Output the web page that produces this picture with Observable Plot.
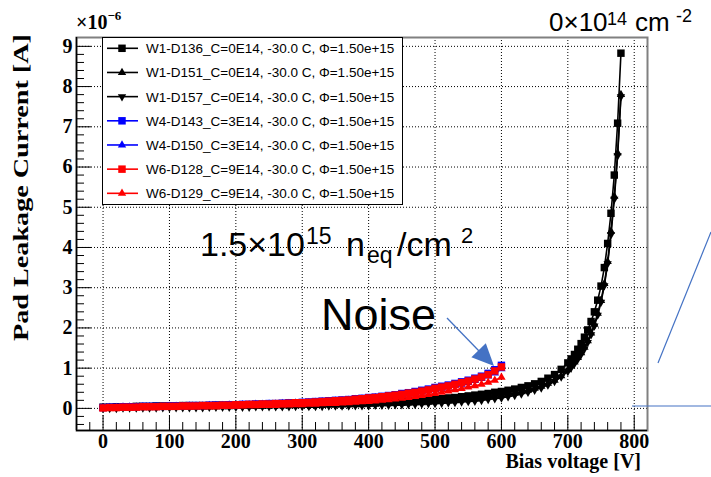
<!DOCTYPE html>
<html><head><meta charset="utf-8">
<script src="https://cdn.jsdelivr.net/npm/d3@7"></script>
<script src="https://cdn.jsdelivr.net/npm/@observablehq/plot@0.6"></script>
<style>
html,body{margin:0;padding:0;background:#fff;}
#chart{position:relative;width:711px;height:477px;}
svg{display:block;}
</style></head><body><div id="chart"></div>
<script>
// ---------- data ----------
const xMajorTicks = [0,100,200,300,400,500,600,700,800];
const yMajorTicks = [0,1,2,3,4,5,6,7,8,9];

const voltagesRB = [0,10,20,30,40,50,60,70,80,90,100,110,120,130,140,150,160,170,180,190,200,210,220,230,240,250,260,270,280,290,300,310,320,330,340,350,360,370,380,390,400,410,420,430,440,450,460,470,480,490,500,510,520,530,540,550,560,570,580,590,600];
const voltagesBlack = [0,10,20,30,40,50,60,70,80,90,100,110,120,130,140,150,160,170,180,190,200,210,220,230,240,250,260,270,280,290,300,310,320,330,340,350,360,370,380,390,400,410,420,430,440,450,460,470,480,490,500,510,520,530,540,550,560,570,580,590,600,610,620,630,640,650,660,670,680,690,700,705,710,715,720,725,730,735,740,745,750,755,760,765,770,775,780];

// current in units of 1e-6 A
const W1_D136 = [
0.03,0.03,0.04,0.04,0.04,0.05,0.05,0.05,0.06,0.06,
0.06,0.06,0.07,0.07,0.07,0.07,0.07,0.08,0.08,0.08,
0.08,0.08,0.09,0.09,0.09,0.09,0.10,0.10,0.10,0.10,
0.11,0.11,0.11,0.12,0.12,0.12,0.13,0.13,0.14,0.14,
0.15,0.15,0.16,0.17,0.17,0.18,0.19,0.20,0.21,0.22,
0.23,0.24,0.26,0.27,0.29,0.31,0.33,0.35,0.37,0.40,
0.42,0.45,0.48,0.52,0.56,0.61,0.67,0.75,0.84,0.97,
1.13,
1.23,1.34,1.47,1.61,1.77,1.95,2.16,2.40,2.69,3.04,3.50,4.10,4.85,5.80,7.09,8.83];
const W1_D151 = [
0.01,0.01,0.01,0.02,0.02,0.02,0.02,0.02,0.03,0.03,
0.03,0.03,0.03,0.03,0.04,0.04,0.04,0.04,0.04,0.04,
0.05,0.05,0.05,0.05,0.05,0.06,0.06,0.06,0.06,0.06,
0.07,0.07,0.07,0.07,0.08,0.08,0.08,0.09,0.09,0.09,
0.10,0.10,0.11,0.11,0.12,0.12,0.13,0.14,0.14,0.15,
0.16,0.17,0.18,0.19,0.21,0.22,0.24,0.26,0.28,0.30,
0.32,0.35,0.38,0.41,0.45,0.50,0.55,0.62,0.70,0.81,
0.96,
1.05,1.15,1.26,1.38,1.52,1.68,1.87,2.09,2.36,2.68,3.10,3.65,4.40,5.27,6.35,7.80];
const W1_D157 = [
0.00,0.00,0.00,0.01,0.01,0.01,0.01,0.01,0.01,0.02,
0.02,0.02,0.02,0.02,0.02,0.02,0.03,0.03,0.03,0.03,
0.03,0.03,0.03,0.04,0.04,0.04,0.04,0.04,0.04,0.05,
0.05,0.05,0.05,0.05,0.06,0.06,0.06,0.06,0.07,0.07,
0.07,0.08,0.08,0.08,0.09,0.09,0.10,0.10,0.11,0.12,
0.12,0.13,0.14,0.15,0.16,0.17,0.18,0.20,0.22,0.24,
0.26,0.29,0.32,0.36,0.40,0.45,0.51,0.58,0.67,0.78,
0.92,
1.01,1.11,1.22,1.34,1.48,1.64,1.83,2.05,2.32,2.64,3.05,3.60,4.32,5.20,6.28,7.75];
const W4_D143 = [
0.02,0.03,0.03,0.04,0.04,0.04,0.05,0.05,0.05,0.05,
0.06,0.06,0.06,0.07,0.07,0.07,0.08,0.08,0.08,0.09,
0.09,0.10,0.10,0.11,0.11,0.12,0.12,0.13,0.14,0.14,
0.15,0.16,0.17,0.18,0.19,0.20,0.21,0.22,0.24,0.25,
0.27,0.28,0.30,0.32,0.34,0.37,0.39,0.42,0.45,0.48,
0.52,0.55,0.58,0.62,0.66,0.70,0.75,0.80,0.87,0.96,
1.07];
const W4_D150 = [
0.01,0.02,0.02,0.03,0.03,0.03,0.04,0.04,0.04,0.04,
0.05,0.05,0.05,0.06,0.06,0.06,0.07,0.07,0.07,0.08,
0.08,0.09,0.09,0.10,0.10,0.11,0.11,0.12,0.12,0.13,
0.14,0.14,0.15,0.16,0.17,0.18,0.19,0.20,0.22,0.23,
0.24,0.26,0.27,0.29,0.31,0.33,0.36,0.38,0.41,0.44,
0.47,0.50,0.53,0.57,0.60,0.64,0.69,0.74,0.80,0.88,
0.98];
const W6_D128 = [
0.01,0.02,0.02,0.03,0.03,0.03,0.04,0.04,0.04,0.05,
0.05,0.05,0.06,0.06,0.06,0.07,0.07,0.07,0.08,0.08,
0.09,0.09,0.10,0.10,0.11,0.11,0.12,0.12,0.13,0.14,
0.14,0.15,0.16,0.17,0.18,0.19,0.20,0.21,0.23,0.24,
0.26,0.27,0.29,0.31,0.33,0.35,0.38,0.40,0.43,0.46,
0.50,0.53,0.56,0.60,0.64,0.68,0.73,0.78,0.84,0.93,
1.03];
const W6_D129 = [
0.00,0.00,0.01,0.01,0.01,0.02,0.02,0.02,0.02,0.02,
0.03,0.03,0.03,0.03,0.04,0.04,0.04,0.04,0.05,0.05,
0.05,0.06,0.06,0.06,0.07,0.07,0.07,0.08,0.08,0.09,
0.09,0.10,0.10,0.11,0.12,0.12,0.13,0.14,0.15,0.16,
0.17,0.18,0.20,0.21,0.23,0.25,0.27,0.29,0.32,0.34,
0.37,0.40,0.43,0.46,0.49,0.53,0.56,0.60,0.65,0.70,
0.77];

const legendLabels = [
  "W1-D136_C=0E14, -30.0 C, \u03A6=1.50e+15",
  "W1-D151_C=0E14, -30.0 C, \u03A6=1.50e+15",
  "W1-D157_C=0E14, -30.0 C, \u03A6=1.50e+15",
  "W4-D143_C=3E14, -30.0 C, \u03A6=1.50e+15",
  "W4-D150_C=3E14, -30.0 C, \u03A6=1.50e+15",
  "W6-D128_C=9E14, -30.0 C, \u03A6=1.50e+15",
  "W6-D129_C=9E14, -30.0 C, \u03A6=1.50e+15"
];
const seriesColors = ["#000000","#000000","#000000","#0000ff","#0000ff","#ff0000","#ff0000"];
const seriesSymbols = ["square","triangle","triangle","square","triangle","square","triangle"];
const seriesRotate = [0,0,180,0,0,0,0];
const seriesValues = [W1_D136,W1_D151,W1_D157,W4_D143,W4_D150,W6_D128,W6_D129];
const seriesVolts = [voltagesBlack,voltagesBlack,voltagesBlack,voltagesRB,voltagesRB,voltagesRB,voltagesRB];

// ---------- layout ----------
const W = 711, H = 477, mL = 76, mR = 64, mT = 37, mB = 47;
const innerW = W - mL - mR, innerH = H - mT - mB;
const xDomain = [-40, 820], yDomain = [-0.55, 9.22];
const xMinor = d3.range(-20, 820, 20).filter(v => v % 100 !== 0);
const yMinor = d3.range(-2, 46).map(i => i / 5).filter(v => !Number.isInteger(v));
const serif = "'Liberation Serif', 'Times New Roman', serif";
const sans = "'Liberation Sans', Arial, sans-serif";

const series = seriesValues.map((vals, i) => ({
  rows: seriesVolts[i].map((v, j) => ({v, I: vals[j]})),
  color: seriesColors[i], symbol: seriesSymbols[i], rotate: seriesRotate[i],
  r: seriesSymbols[i] === "square" ? 4.2 : 3.1
}));

const marks = [
  Plot.gridX(xMajorTicks, {stroke: "#000", strokeOpacity: 1, strokeWidth: 1, strokeDasharray: "1,2"}),
  Plot.gridY(yMajorTicks, {stroke: "#000", strokeOpacity: 1, strokeWidth: 1, strokeDasharray: "1,2"})
];
series.forEach(s => {
  marks.push(Plot.line(s.rows, {x: "v", y: "I", stroke: s.color, strokeWidth: 1.6}));
  marks.push(Plot.dot(s.rows, {x: "v", y: "I", symbol: s.symbol, r: s.r, fill: s.color, stroke: "none", rotate: s.rotate}));
});
marks.push(
  Plot.frame({stroke: "#808080", strokeWidth: 2}),
  Plot.ruleX([xDomain[0]], {stroke: "#000", strokeWidth: 1.5}),
  Plot.ruleY([yDomain[0]], {stroke: "#000", strokeWidth: 1.5}),
  Plot.tickX(xMajorTicks, {x: d => d, stroke: "#000", strokeWidth: 1, insetTop: innerH - 15}),
  Plot.tickX(xMinor, {x: d => d, stroke: "#000", strokeWidth: 1, insetTop: innerH - 8}),
  Plot.tickY(yMajorTicks, {y: d => d, stroke: "#000", strokeWidth: 1, insetRight: innerW - 15}),
  Plot.tickY(yMinor, {y: d => d, stroke: "#000", strokeWidth: 1, insetRight: innerW - 8}),
  Plot.axisX(xMajorTicks, {anchor: "bottom", tickSize: 0, tickPadding: 3, label: null, fontSize: 20, fontWeight: "bold", fontFamily: serif, fill: "#000", tickFormat: d => String(d)}),
  Plot.axisY(yMajorTicks, {anchor: "left", tickSize: 0, tickPadding: 4, label: null, fontSize: 20, fontWeight: "bold", fontFamily: serif, fill: "#000", tickFormat: d => String(d)})
);

const chart = Plot.plot({
  width: W, height: H,
  marginLeft: mL, marginRight: mR, marginTop: mT, marginBottom: mB,
  x: {domain: xDomain},
  y: {domain: yDomain},
  style: {background: "#fff", overflow: "visible"},
  marks
});
document.getElementById("chart").appendChild(chart);

// ---------- overlays ----------
const svg = d3.select(chart);
const ov = svg.append("g").attr("text-anchor", "start");

// axis titles
ov.append("text").attr("x", 641).attr("y", 468).attr("text-anchor", "end")
  .attr("font-family", serif).attr("font-weight", "bold").attr("font-size", 20).attr("fill", "#000")
  .text("Bias voltage [V]");
ov.append("text").attr("transform", "translate(28,34) rotate(-90)").attr("text-anchor", "end")
  .attr("font-family", serif).attr("font-weight", "bold").attr("font-size", 22).attr("fill", "#000")
  .attr("textLength", 307).attr("lengthAdjust", "spacingAndGlyphs")
  .text("Pad Leakage Current [A]");
const exp = ov.append("text").attr("x", 76).attr("y", 29).attr("text-anchor", "start")
  .attr("font-family", serif).attr("font-weight", "bold").attr("font-size", 20).attr("fill", "#000");
exp.append("tspan").text("\u00D710");
exp.append("tspan").attr("font-size", 13).attr("dy", -9).text("\u22126");

// legend
const lg = ov.append("g");
lg.append("rect").attr("x", 102.5).attr("y", 37.5).attr("width", 300).attr("height", 167)
  .attr("fill", "#fff").attr("stroke", "#000").attr("stroke-width", 1);
series.forEach((s, i) => {
  const y = 48.3 + i * 24.17;
  lg.append("line").attr("x1", 107).attr("x2", 138).attr("y1", y).attr("y2", y)
    .attr("stroke", s.color).attr("stroke-width", 1.6);
  const sym = s.symbol === "square" ? d3.symbol(d3.symbolSquare, 56) : d3.symbol(d3.symbolTriangle, Math.PI * 3.1 * 3.1);
  lg.append("path").attr("d", sym()).attr("transform", `translate(122,${y}) rotate(${s.rotate})`).attr("fill", s.color);
  lg.append("text").attr("x", 146).attr("y", y).attr("dy", "0.36em").attr("text-anchor", "start")
    .attr("font-family", sans).attr("font-size", 13.5).attr("fill", "#000").text(legendLabels[i]);
});

// slide annotations
const blue = "#4472C4";
const t1 = ov.append("text").attr("font-family", sans).attr("fill", "#000").attr("text-anchor", "start");
t1.append("tspan").attr("x", 200).attr("y", 256).attr("font-size", 34).text("1.5\u00D710");
t1.append("tspan").attr("x", 306).attr("y", 244).attr("font-size", 23).text("15");
t1.append("tspan").attr("x", 346).attr("y", 256).attr("font-size", 34).text("n");
t1.append("tspan").attr("x", 367).attr("y", 263).attr("font-size", 23).text("eq");
t1.append("tspan").attr("x", 397).attr("y", 256).attr("font-size", 34).text("/cm");
t1.append("tspan").attr("x", 461).attr("y", 243).attr("font-size", 22).text("2");

ov.append("text").attr("x", 321).attr("y", 330).attr("text-anchor", "start").attr("font-family", sans).attr("font-size", 45)
  .attr("fill", "#000").text("Noise");

const t2 = ov.append("text").attr("font-family", sans).attr("fill", "#000").attr("text-anchor", "start");
t2.append("tspan").attr("x", 549).attr("y", 31).attr("font-size", 26).text("0\u00D710");
t2.append("tspan").attr("x", 607).attr("y", 25).attr("font-size", 18).text("14");
t2.append("tspan").attr("x", 635).attr("y", 31).attr("font-size", 26).text("cm");
t2.append("tspan").attr("x", 676).attr("y", 22).attr("font-size", 18).text("-2");

// arrow
ov.append("line").attr("x1", 447).attr("y1", 318).attr("x2", 479).attr("y2", 351)
  .attr("stroke", blue).attr("stroke-width", 1.3);
ov.append("polygon").attr("points", "494,366 471.4,357.3 485.8,343.3").attr("fill", blue);
// connector lines at right edge
ov.append("line").attr("x1", 658).attr("y1", 363).attr("x2", 711).attr("y2", 232)
  .attr("stroke", blue).attr("stroke-width", 1.2);
ov.append("line").attr("x1", 632).attr("y1", 406).attr("x2", 711).attr("y2", 406)
  .attr("stroke", blue).attr("stroke-width", 1.2);
</script>
</body></html>
